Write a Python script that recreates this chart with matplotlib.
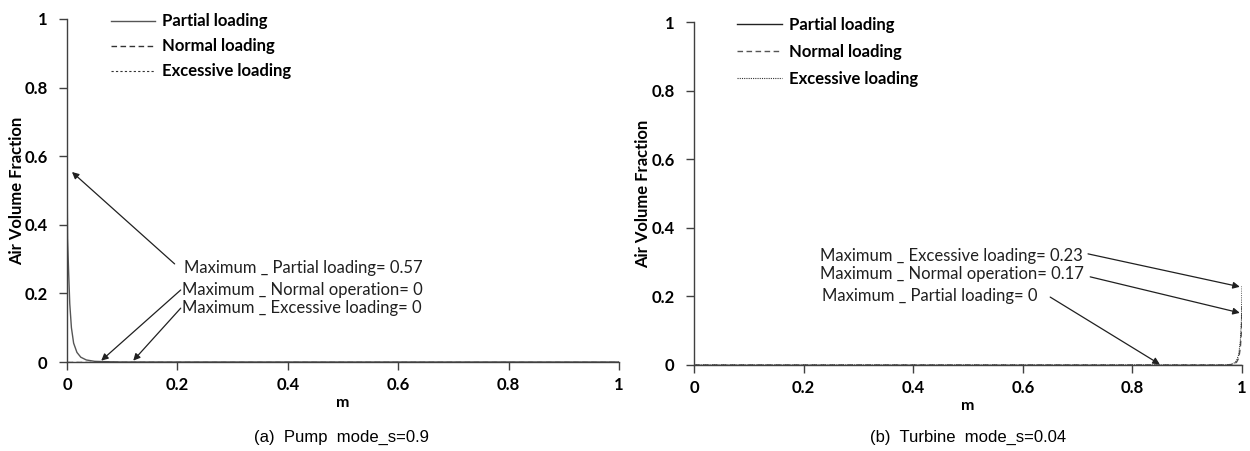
#!/usr/bin/env python

# Air volume fraction along the meridional coordinate m
# (a) pump mode and (b) turbine mode, three loading conditions each

import matplotlib
matplotlib.use("Agg")
import matplotlib.pyplot as plt

# Pump mode, s=0.9
m_pump = [0.0, 0.001, 0.003, 0.005, 0.008, 0.012, 0.018, 0.025, 0.035,
          0.05, 0.07, 0.1, 0.2, 0.4, 0.6, 0.8, 1.0]
pump_partial = [0.57, 0.36, 0.26, 0.17, 0.1, 0.055, 0.028, 0.014, 0.006,
                0.002, 0.001, 0.0, 0.0, 0.0, 0.0, 0.0, 0.0]
pump_normal = [0.0] * len(m_pump)
pump_excessive = [0.0] * len(m_pump)

# Turbine mode, s=0.04
m_turb = [0.0, 0.2, 0.4, 0.6, 0.8, 0.9, 0.95, 0.97, 0.98, 0.985, 0.99,
          0.994, 0.997, 0.999, 1.0]
turb_partial = [0.0] * len(m_turb)
turb_normal = [0.0, 0.0, 0.0, 0.0, 0.0, 0.0, 0.0, 0.0, 0.001, 0.003, 0.008,
               0.02, 0.05, 0.1, 0.17]
turb_excessive = [0.0, 0.0, 0.0, 0.0, 0.0, 0.0, 0.0, 0.0, 0.002, 0.005, 0.012,
                  0.03, 0.07, 0.13, 0.23]

labels = ["Partial loading", "Normal loading", "Excessive loading"]
ticks = [0, 0.2, 0.4, 0.6, 0.8, 1]
tick_text = ["0", "0.2", "0.4", "0.6", "0.8", "1"]

fam = ["Lato", "DejaVu Sans"]
cap_fam = ["Liberation Sans Narrow", "Liberation Sans", "DejaVu Sans"]
spine_col = "#404040"

fig = plt.figure(figsize=(12.5, 4.51), dpi=100, facecolor="white")
ax_p = fig.add_axes([0.0536, 0.1973, 0.4416, 0.7606])
ax_t = fig.add_axes([0.5552, 0.1907, 0.4384, 0.7605])


def style_axes(ax, ylab_x):
    ax.set_xlim(0, 1)
    ax.set_ylim(0, 1)
    ax.spines["top"].set_visible(False)
    ax.spines["right"].set_visible(False)
    for s in ("left", "bottom"):
        ax.spines[s].set_color(spine_col)
        ax.spines[s].set_linewidth(1.0)
    ax.set_xticks(ticks)
    ax.set_yticks(ticks)
    ax.set_xticklabels(tick_text, fontfamily=fam, fontweight="bold", fontsize=12)
    ax.set_yticklabels(tick_text, fontfamily=fam, fontweight="bold", fontsize=12)
    ax.tick_params(axis="y", direction="out", length=6, width=1.0,
                   color=spine_col, pad=8)
    ax.tick_params(axis="x", direction="out", length=6, width=1.0,
                   color=spine_col, pad=5)
    ax.set_xlabel("m", fontfamily=fam, fontweight="bold", fontsize=11.5, labelpad=2)
    ax.set_ylabel("Air Volume Fraction", fontfamily=fam, fontweight="bold",
                  fontsize=12)
    ax.yaxis.set_label_coords(ylab_x, 0.5)


arrow = dict(arrowstyle="-|>", color="#202020", lw=0.9, mutation_scale=10,
             shrinkA=0, shrinkB=0)
note = dict(fontfamily=fam, fontsize=12, va="center", ha="left", color="#202020")
leg_prop = {"family": fam, "weight": "bold", "size": 12}

# (a) pump mode
ax = ax_p
ax.plot(m_pump, pump_partial, color="#555555", lw=1.0, ls="-", label=labels[0])
ax.plot(m_pump, pump_normal, color="#333333", lw=1.0, ls=(0, (4, 2.5)), label=labels[1])
ax.plot(m_pump, pump_excessive, color="#333333", lw=0.8, ls=(0, (2, 2)), label=labels[2])
style_axes(ax, -0.076)
ax.legend(loc="upper left", bbox_to_anchor=(0.053, 1.06), frameon=False,
          handlelength=2.65, handletextpad=0.42, labelspacing=0.54,
          prop=leg_prop)
ax.text(0.212, 0.274, "Maximum _ Partial loading= %.2f" % max(pump_partial), **note)
ax.text(0.208, 0.21, "Maximum _ Normal operation= %g" % max(pump_normal), **note)
ax.text(0.208, 0.157, "Maximum _ Excessive loading= %g" % max(pump_excessive), **note)
ax.annotate("", xy=(0.009, 0.554), xytext=(0.195, 0.286), arrowprops=arrow)
ax.annotate("", xy=(0.062, 0.004), xytext=(0.206, 0.21), arrowprops=arrow)
ax.annotate("", xy=(0.12, 0.004), xytext=(0.206, 0.157), arrowprops=arrow)
fig.text(0.2735, 0.03, "(a)  Pump  mode_s=0.9", fontfamily=cap_fam, fontsize=12,
         ha="center", va="center")

# (b) turbine mode
ax = ax_t
ax.plot(m_turb, turb_partial, color="#222222", lw=1.0, ls="-", label=labels[0])
ax.plot(m_turb, turb_normal, color="#555555", lw=1.0, ls=(0, (4, 2.5)), label=labels[1])
ax.plot(m_turb, turb_excessive, color="#333333", lw=0.8, ls=(0, (1, 1)), label=labels[2])
style_axes(ax, -0.078)
ax.legend(loc="upper left", bbox_to_anchor=(0.052, 1.059), frameon=False,
          handlelength=2.65, handletextpad=0.42, labelspacing=0.66,
          prop=leg_prop)
ax.text(0.23, 0.318, "Maximum _ Excessive loading= %.2f" % max(turb_excessive), **note)
ax.text(0.23, 0.265, "Maximum _ Normal operation= %.2f" % max(turb_normal), **note)
ax.text(0.234, 0.20, "Maximum _ Partial loading= %g" % max(turb_partial), **note)
ax.annotate("", xy=(0.996, 0.228), xytext=(0.719, 0.324), arrowprops=arrow)
ax.annotate("", xy=(0.996, 0.152), xytext=(0.723, 0.257), arrowprops=arrow)
ax.annotate("", xy=(0.85, 0.002), xytext=(0.65, 0.198), arrowprops=arrow)
fig.text(0.7744, 0.03, "(b)  Turbine  mode_s=0.04", fontfamily=cap_fam, fontsize=12,
         ha="center", va="center")

fig.savefig("out.png", dpi=100, facecolor="white")
